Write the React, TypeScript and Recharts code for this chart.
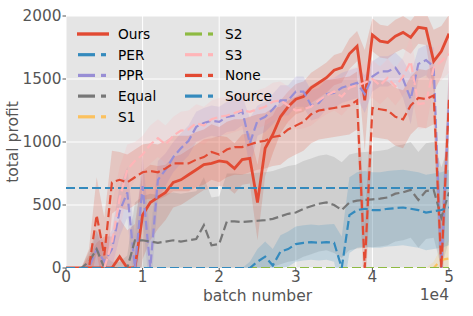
import React from "react";
import { ComposedChart, Line, Area, XAxis, YAxis, CartesianGrid } from "recharts";

// batch number (x) grid
const batches = [
  0, 1000, 2000, 3000, 4000, 5000, 6000, 7000, 8000, 9000, 10000,
  11000, 12000, 13000, 14000, 15000, 16000, 17000, 18000, 19000, 20000,
  21000, 22000, 23000, 24000, 25000, 26000, 27000, 28000, 29000, 30000,
  31000, 32000, 33000, 34000, 35000, 36000, 37000, 38000, 39000, 40000,
  41000, 42000, 43000, 44000, 45000, 46000, 47000, 48000, 49000, 50000,
];

// mean total profit per method
const ours = [0, 0, 0, 0, 0, 0, 0, 90, 0, 0, 420, 520, 560, 600, 680, 700, 740, 780, 820, 830, 850, 840, 790, 860, 870, 520, 950, 1060, 1200, 1280, 1340, 1360, 1430, 1470, 1510, 1570, 1590, 1700, 1760, 1330, 1850, 1800, 1790, 1840, 1870, 1830, 1910, 1900, 1640, 1720, 1860];
const per = [635, 635, 635, 635, 635, 635, 635, 635, 635, 635, 635, 635, 635, 635, 635, 635, 635, 635, 635, 635, 635, 635, 635, 635, 635, 635, 635, 635, 635, 635, 635, 635, 635, 635, 635, 635, 635, 635, 635, 635, 635, 635, 635, 635, 635, 635, 635, 635, 635, 635, 635];
const ppr = [0, 0, 0, 0, 150, 50, 150, 450, 600, 0, 650, 0, 700, 780, 880, 950, 1010, 1120, 1150, 1170, 1160, 1200, 1210, 1250, 990, 1170, 1200, 1260, 1330, 1330, 1400, 1400, 1290, 1310, 1380, 1390, 1430, 1450, 1470, 1380, 1520, 1560, 1560, 1590, 1500, 1340, 1620, 1650, 1600, 0, 1330];
const equal = [0, 0, 0, 50, 150, 0, 0, 0, 0, 220, 220, 210, 200, 210, 220, 210, 220, 230, 340, 180, 190, 370, 370, 365, 370, 375, 380, 390, 410, 430, 440, 470, 490, 510, 520, 500, 460, 520, 535, 540, 545, 550, 560, 590, 600, 620, 540, 610, 620, 400, 600];
const s1 = [0, 0, 0, 0, 0, 0, 0, 0, 0, 0, 0, 0, 0, 0, 0, 0, 0, 0, 0, 0, 0, 0, 0, 0, 0, 0, 0, 0, 0, 0, 0, 0, 0, 0, 0, 0, 0, 0, 0, 0, 0, 0, 0, 0, 0, 0, 0, 0, 0, 65, 75];
const s2 = [0, 0, 0, 0, 0, 0, 0, 0, 0, 0, 0, 0, 0, 0, 0, 0, 0, 0, 0, 0, 0, 0, 0, 0, 0, 0, 0, 0, 0, 0, 0, 0, 0, 0, 0, 0, 0, 0, 0, 0, 0, 0, 0, 0, 0, 0, 0, 0, 0, 0, 0];
const s3 = [0, 0, 0, 0, 0, 0, 200, 550, 780, 850, 900, 980, 1030, 980, 1050, 1090, 1100, 1150, 1130, 1180, 1200, 1210, 1230, 1250, 1240, 1260, 1280, 1320, 1330, 1290, 1250, 1260, 1280, 1330, 1370, 1400, 1360, 1430, 1450, 1470, 1500, 1450, 1510, 1440, 1520, 1640, 1300, 1310, 1590, 1640, 1700];
const none = [0, 0, 0, 0, 420, 100, 680, 700, 680, 720, 760, 770, 760, 790, 830, 830, 830, 860, 880, 920, 900, 940, 960, 960, 980, 1000, 1010, 1040, 1050, 1100, 1130, 1160, 1220, 1250, 1260, 1270, 1280, 1290, 1330, 0, 1270, 1260, 1250, 1200, 1180, 1290, 1350, 1340, 1370, 0, 1340];
const source = [0, 0, 0, 0, 0, 0, 0, 0, 0, 0, 0, 0, 0, 0, 0, 0, 0, 0, 0, 0, 0, 0, 0, 0, 0, 50, 90, 20, 130, 150, 190, 200, 205, 200, 205, 200, 0, 420, 460, 470, 460, 460, 470, 475, 480, 470, 460, 440, 450, 460, 480];

// standard deviation (shaded bands)
const oursStd = [0, 0, 0, 100, 200, 250, 250, 300, 300, 350, 350, 300, 250, 220, 200, 200, 200, 200, 200, 200, 200, 200, 200, 200, 200, 300, 220, 150, 130, 120, 120, 120, 120, 120, 120, 120, 120, 120, 120, 400, 130, 130, 130, 130, 130, 130, 130, 130, 250, 200, 150];
const pprStd = [0, 0, 0, 50, 150, 150, 150, 200, 200, 250, 250, 250, 150, 130, 120, 120, 120, 120, 120, 120, 120, 120, 120, 120, 200, 120, 120, 120, 120, 120, 120, 120, 120, 120, 120, 120, 120, 120, 120, 150, 120, 120, 120, 120, 150, 200, 120, 120, 150, 300, 300];
const equalStd = [0, 0, 0, 80, 150, 100, 50, 50, 100, 300, 350, 380, 380, 380, 380, 380, 380, 380, 380, 380, 380, 380, 380, 380, 380, 380, 380, 380, 380, 380, 380, 380, 380, 380, 380, 380, 380, 380, 380, 380, 380, 380, 380, 380, 380, 380, 380, 380, 380, 400, 380];
const s1Std = [0, 0, 0, 0, 0, 0, 0, 0, 0, 0, 0, 0, 0, 0, 0, 0, 0, 0, 0, 0, 0, 0, 0, 0, 0, 0, 0, 0, 0, 0, 0, 0, 0, 0, 0, 0, 0, 0, 0, 0, 0, 0, 0, 0, 0, 0, 0, 0, 50, 100, 150];
const s3Std = [0, 0, 0, 0, 100, 200, 300, 250, 200, 150, 150, 150, 150, 150, 150, 150, 150, 150, 150, 150, 150, 150, 150, 150, 150, 150, 150, 150, 150, 150, 150, 150, 150, 150, 150, 150, 150, 150, 150, 150, 150, 150, 150, 150, 150, 200, 200, 200, 150, 150, 150];
const noneStd = [0, 0, 0, 150, 300, 300, 250, 220, 220, 220, 220, 220, 220, 220, 220, 220, 220, 220, 220, 220, 220, 220, 220, 220, 220, 220, 220, 230, 230, 230, 230, 230, 230, 230, 230, 230, 230, 230, 230, 350, 230, 230, 230, 230, 230, 230, 230, 230, 230, 350, 230];
const sourceStd = [0, 0, 0, 0, 0, 0, 0, 0, 0, 0, 0, 0, 0, 0, 0, 0, 0, 0, 0, 0, 0, 0, 0, 0, 50, 100, 120, 130, 130, 140, 140, 140, 140, 140, 140, 150, 250, 300, 300, 300, 300, 300, 300, 300, 300, 300, 300, 300, 300, 300, 300];

const xTicks = [0, 10000, 20000, 30000, 40000, 50000];
const yTicks = [0, 500, 1000, 1500, 2000];

const series = [
  { key: "ours", name: "Ours", color: "#E24A33", values: ours, std: oursStd, dashed: false },
  { key: "per", name: "PER", color: "#348ABD", values: per, std: null, dashed: true },
  { key: "ppr", name: "PPR", color: "#988ED5", values: ppr, std: pprStd, dashed: true },
  { key: "equal", name: "Equal", color: "#777777", values: equal, std: equalStd, dashed: true },
  { key: "s1", name: "S1", color: "#FBC15E", values: s1, std: s1Std, dashed: true },
  { key: "s2", name: "S2", color: "#8EBA42", values: s2, std: null, dashed: true },
  { key: "s3", name: "S3", color: "#FFB5B8", values: s3, std: s3Std, dashed: true },
  { key: "none", name: "None", color: "#E24A33", values: none, std: noneStd, dashed: true },
  { key: "source", name: "Source", color: "#348ABD", values: source, std: sourceStd, dashed: true },
];

const data = batches.map((x, i) => {
  const row: any = { x };
  series.forEach((s) => {
    row[s.key] = s.values[i];
    if (s.std) row[s.key + "Band"] = [s.values[i] - s.std[i], s.values[i] + s.std[i]];
  });
  return row;
});

const font = "DejaVu Sans, sans-serif";
const tickStyle = { fontSize: 15.3, fill: "#555555", fontFamily: font };

export default function App() {
  return (
    <div style={{ position: "absolute", left: 0, top: 0, width: 473, height: 316, background: "#fff" }}>
      <ComposedChart width={473} height={316} data={data} margin={{ top: 16, right: 24, bottom: 0, left: 0 }}>
        <CartesianGrid fill="#E5E5E5" stroke="#ffffff" strokeWidth={1} />
        <XAxis
          dataKey="x"
          type="number"
          domain={[0, 50000]}
          ticks={xTicks}
          tickFormatter={(v) => String(v / 10000)}
          height={48}
          axisLine={false}
          tickLine={{ stroke: "#555555" }}
          tickSize={3.5}
          tickMargin={0}
          tick={tickStyle}
          allowDataOverflow
        />
        <YAxis
          type="number"
          domain={[0, 2000]}
          ticks={yTicks}
          width={66}
          axisLine={false}
          tickLine={{ stroke: "#555555" }}
          tickSize={3.5}
          tickMargin={1}
          tick={tickStyle}
          allowDataOverflow
        />
        {series
          .filter((s) => s.std)
          .map((s) => (
            <Area
              key={s.key + "Band"}
              dataKey={s.key + "Band"}
              type="linear"
              stroke="none"
              fill={s.color}
              fillOpacity={0.2}
              isAnimationActive={false}
              activeDot={false}
            />
          ))}
        {series.map((s) => (
          <Line
            key={s.key}
            dataKey={s.key}
            type="linear"
            stroke={s.color}
            strokeWidth={s.dashed ? 2.2 : 2.8}
            strokeDasharray={s.dashed ? "9 4" : undefined}
            dot={false}
            activeDot={false}
            isAnimationActive={false}
          />
        ))}
      </ComposedChart>
      <svg width={473} height={316} style={{ position: "absolute", left: 0, top: 0, pointerEvents: "none" }}>
        {/* legend, two columns */}
        {series.map((s, i) => {
          const col = i < 5 ? 0 : 1;
          const row = col === 0 ? i : i - 5;
          const x0 = col === 0 ? 78 : 185;
          const y = 34 + row * 20.7;
          return (
            <g key={s.key}>
              {s.dashed ? (
                <>
                  <line x1={x0} y1={y} x2={x0 + 17} y2={y} stroke={s.color} strokeWidth={3.2} />
                  <line x1={x0 + 23} y1={y} x2={x0 + 28} y2={y} stroke={s.color} strokeWidth={3.2} />
                </>
              ) : (
                <line x1={x0 - 1} y1={y} x2={x0 + 31} y2={y} stroke={s.color} strokeWidth={3.4} />
              )}
              <text x={x0 + 40} y={y} dominantBaseline="central" fontSize={13.7} fontFamily={font} fill="#000">
                {s.name}
              </text>
            </g>
          );
        })}
        <text x={257.5} y={301} textAnchor="middle" fontSize={15.5} fontFamily={font} fill="#555555">
          batch number
        </text>
        <text x={449} y={300} textAnchor="end" fontSize={15.5} fontFamily={font} fill="#555555">
          1e4
        </text>
        <text
          x={18}
          y={142}
          textAnchor="middle"
          fontSize={15.5}
          fontFamily={font}
          fill="#555555"
          transform="rotate(-90 18 142)"
        >
          total profit
        </text>
      </svg>
    </div>
  );
}
